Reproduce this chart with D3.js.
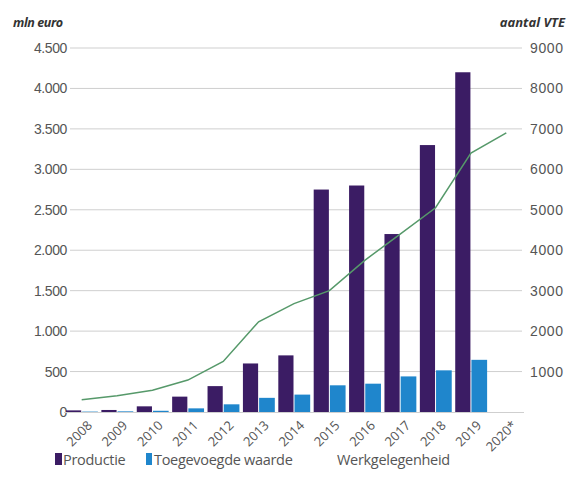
<!DOCTYPE html>
<html>
<head>
<meta charset="utf-8">
<script src="https://cdn.jsdelivr.net/npm/d3@7"></script>
<style>
  html, body { margin: 0; padding: 0; background: #fff; }
  svg { display: block; font-family: "Open Sans", "Noto Sans", sans-serif; }
</style>
</head>
<body>
<svg id="chart" width="569" height="484"></svg>
<script>
// Jaren en reeksen
const years = ["2008","2009","2010","2011","2012","2013","2014","2015","2016","2017","2018","2019","2020*"];
// Productie (mln euro)
const productie = [20, 25, 70, 190, 320, 600, 700, 2750, 2800, 2200, 3300, 4200, null];
// Toegevoegde waarde (mln euro)
const toegevoegd = [5, 8, 15, 45, 95, 175, 215, 330, 350, 440, 515, 645, null];
// Werkgelegenheid (aantal VTE)
const werkgelegenheid = [300, 400, 540, 790, 1250, 2230, 2680, 3000, 3750, 4400, 5050, 6400, 6900];

const leftTicks = [0, 500, 1000, 1500, 2000, 2500, 3000, 3500, 4000, 4500];
const rightTicks = [1000, 2000, 3000, 4000, 5000, 6000, 7000, 8000, 9000];

const colProductie = "#3b1c64";
const colToegevoegd = "#1f86cc";
const colWerk = "#56996a";
const colText = "#555";

const svg = d3.select("#chart");

const x = d3.scaleBand().domain(years).range([64, 524]).paddingInner(0).paddingOuter(0);
const yL = d3.scaleLinear().domain([0, 4500]).range([412, 48]);
const yR = d3.scaleLinear().domain([0, 9000]).range([412, 48]);

const nl = d3.formatLocale({ decimal: ",", thousands: ".", grouping: [3], currency: ["€", ""] });
const fmtL = nl.format(",d");

// Rasterlijnen
svg.append("g")
  .selectAll("line")
  .data(leftTicks.filter(d => d > 0))
  .join("line")
  .attr("x1", 70).attr("x2", 522)
  .attr("y1", d => yL(d)).attr("y2", d => yL(d))
  .attr("stroke", "#cfcfcf").attr("stroke-width", 1);

// Linker as
const axL = svg.append("g").attr("transform", "translate(67,0)")
  .call(d3.axisLeft(yL).tickValues(leftTicks).tickSize(0).tickPadding(0).tickFormat(fmtL));
axL.select(".domain").remove();
axL.selectAll("text").attr("fill", colText).style("font-size", "14px").style("letter-spacing", "-0.4px");

// Rechter as
const axR = svg.append("g").attr("transform", "translate(530,0)")
  .call(d3.axisRight(yR).tickValues(rightTicks).tickSize(0).tickPadding(0).tickFormat(d3.format("d")));
axR.select(".domain").remove();
axR.selectAll("text").attr("fill", colText).style("font-size", "14px").style("letter-spacing", "0.6px");

// Eenheden
svg.append("text").attr("x", 13).attr("y", 27)
  .attr("fill", "#333").style("font-size", "12.5px").style("font-style", "italic").style("font-weight", "bold")
  .style("letter-spacing", "-0.4px").text("mln euro");
svg.append("text").attr("x", 565).attr("y", 27).attr("text-anchor", "end")
  .attr("fill", "#333").style("font-size", "13px").style("font-style", "italic").style("font-weight", "bold")
  .style("letter-spacing", "0px").text("aantal VTE");

// Staven
const bw = (x.bandwidth() - 4) / 2;
const bars = svg.append("g");
bars.selectAll("rect.prod")
  .data(years.map((y, i) => ({ y, v: productie[i] })).filter(d => d.v != null))
  .join("rect").attr("class", "prod")
  .attr("x", d => x(d.y) + 2).attr("width", bw - 0.5)
  .attr("y", d => yL(d.v)).attr("height", d => yL(0) - yL(d.v))
  .attr("fill", colProductie);
bars.selectAll("rect.toeg")
  .data(years.map((y, i) => ({ y, v: toegevoegd[i] })).filter(d => d.v != null))
  .join("rect").attr("class", "toeg")
  .attr("x", d => x(d.y) + 2 + bw + 0.5).attr("width", bw)
  .attr("y", d => yL(d.v)).attr("height", d => yL(0) - yL(d.v))
  .attr("fill", colToegevoegd);

// Basislijn
svg.append("line").attr("x1", 64).attr("x2", 524).attr("y1", 412.5).attr("y2", 412.5)
  .attr("stroke", "#cfcfcf").attr("stroke-width", 1);

// Werkgelegenheid
const line = d3.line()
  .x((d, i) => x(years[i]) + x.bandwidth() / 2)
  .y(d => yR(d));
svg.append("path").datum(werkgelegenheid)
  .attr("d", line).attr("fill", "none")
  .attr("stroke", colWerk).attr("stroke-width", 1.5);

// Jaarlabels
svg.append("g").selectAll("text")
  .data(years).join("text")
  .attr("transform", d => `translate(${x(d) + x.bandwidth() / 2 + 8},${423}) rotate(-45)`)
  .attr("text-anchor", "end").attr("dy", "0.35em")
  .attr("fill", colText).style("font-size", "13px").style("letter-spacing", "0px")
  .text(d => d);

// Legenda
const lg = svg.append("g").attr("transform", "translate(0,463)");
const legStyle = sel => sel.attr("fill", colText).style("font-size", "14.5px").style("letter-spacing", "-0.3px");
lg.append("rect").attr("x", 55).attr("y", -10).attr("width", 7).attr("height", 12).attr("fill", colProductie);
lg.append("text").attr("x", 63).attr("y", 2).call(legStyle).text("Productie");
lg.append("rect").attr("x", 146).attr("y", -10).attr("width", 6).attr("height", 12).attr("fill", colToegevoegd);
lg.append("text").attr("x", 154).attr("y", 2).call(legStyle).text("Toegevoegde waarde");
lg.append("text").attr("x", 337).attr("y", 2).call(legStyle).text("Werkgelegenheid");
</script>
</body>
</html>
